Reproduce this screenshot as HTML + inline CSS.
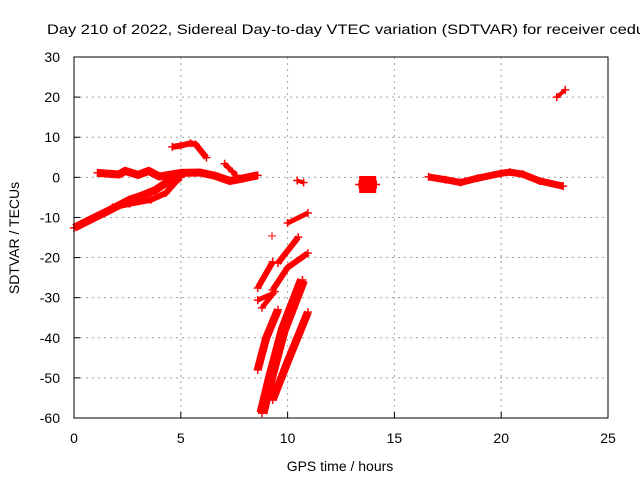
<!DOCTYPE html>
<html><head><meta charset="utf-8"><style>
body{margin:0;background:#fff;}
svg{display:block;font-family:"Liberation Sans",sans-serif;font-size:14px;}
</style></head><body>
<svg id="chart" width="640" height="480">
<rect width="640" height="480" fill="#fff"/>
<text x="47" y="34" font-size="14" textLength="598" lengthAdjust="spacingAndGlyphs">Day 210 of 2022, Sidereal Day-to-day VTEC variation (SDTVAR) for receiver cedu</text>
<g id="grid"></g>
<g id="ticks"></g>
<g id="series"></g>
<rect x="74" y="57" width="534" height="361" fill="none" stroke="#000" stroke-width="1"/>
<text x="340" y="471" text-anchor="middle">GPS time / hours</text>
<text transform="translate(19,238) rotate(-90)" text-anchor="middle">SDTVAR / TECUs</text>
</svg>
<script>
const xTicks=[0,5,10,15,20,25];
const yTicks=[30,20,10,0,-10,-20,-30,-40,-50,-60];
// tracks: [hour, SDTVAR] points
const trackA=[[0,-12.6],[0.75,-10.6],[1.7,-8.1],[2.6,-5.6],[3.1,-4.7],[3.8,-3.2],[4.5,-0.7],[5.0,0.3]];
const trackB=[[1.8,-7.5],[2.6,-6.6],[3.6,-5.6],[4.3,-3.9],[4.75,-1.2],[5.0,0]];
const trackC=[[4.6,7.6],[5.0,7.9],[5.45,8.5],[5.7,8.2],[6.2,4.9]];
const trackD=[[1.1,1.1],[2.1,0.7],[2.4,1.6],[3.0,0.6],[3.5,1.6],[4.0,0.2],[5.0,1.1],[5.9,1.2],[6.6,0.4],[7.3,-0.9],[7.8,-0.4],[8.6,0.5]];
const trackE=[[7.05,3.4],[7.4,1.5],[7.6,0.5]];
const trackF=[[10.0,-11.4],[10.95,-8.9]];
const trackG=[[9.55,-21.4],[10.5,-14.9]];
const trackH=[[8.6,-27.6],[9.3,-21.1]];
const trackI=[[9.3,-28.1],[10.0,-22.5],[10.95,-18.9]];
const trackJ=[[8.6,-30.6],[9.3,-29.0]];
const trackK=[[8.8,-32.5],[9.4,-28.5]];
const trackL=[[8.8,-58.8],[9.2,-50],[9.8,-38],[10.7,-25.6]];
const trackM=[[9.3,-55.5],[10.0,-46],[10.95,-33.6]];
const trackN=[[8.6,-48],[9.0,-40],[9.55,-33]];
const trackO=[[10.45,-0.8],[10.75,-1.3]];
const trackP=[[13.35,-1.8],[14.15,-1.8]];
const trackQ=[[16.6,0.1],[17.4,-0.6],[18.1,-1.3],[18.9,-0.2],[20.0,1.0],[20.4,1.3],[21.0,0.8],[21.8,-0.9],[22.9,-2.2]];
const trackR=[[22.6,20.0],[23.0,21.8]];
const singles=[[9.27,-14.6]];
const tracks=[trackA,trackB,trackC,trackD,trackE,trackF,trackG,trackH,trackI,trackJ,trackK,trackL,trackM,trackN,trackO,trackP,trackQ,trackR];
const widths=[8,6,6,8,5,5,6,6,6,5,5,11,8,8,4,17,7,4];
const NS='http://www.w3.org/2000/svg';
const X=t=>74+t*534/25, Y=v=>57+(30-v)*361/90;
const grid=document.getElementById('grid'),ticks=document.getElementById('ticks'),series=document.getElementById('series');
xTicks.forEach(t=>{
 if(t>0&&t<25){const l=document.createElementNS(NS,'line');
 
 
 l.setAttribute('x1',X(t));l.setAttribute('x2',X(t));l.setAttribute('y1',57);l.setAttribute('y2',418);
 l.setAttribute('stroke','#a0a0a0');l.setAttribute('stroke-dasharray','2,4');grid.appendChild(l);}
 const k=document.createElementNS(NS,'line');
 
 
 k.setAttribute('x1',X(t));k.setAttribute('x2',X(t));k.setAttribute('y1',418);k.setAttribute('y2',412);k.setAttribute('stroke','#000');ticks.appendChild(k);
 const s=document.createElementNS(NS,'text');
 
 
 s.setAttribute('x',X(t));s.setAttribute('y',443);s.setAttribute('text-anchor','middle');s.textContent=t;ticks.appendChild(s);
});
yTicks.forEach(v=>{
 if(v<30&&v>-60){const l=document.createElementNS(NS,'line');
 
 
 l.setAttribute('x1',74);l.setAttribute('x2',608);l.setAttribute('y1',Y(v));l.setAttribute('y2',Y(v));
 l.setAttribute('stroke','#a0a0a0');l.setAttribute('stroke-dasharray','2,4');grid.appendChild(l);}
 const k=document.createElementNS(NS,'line');
 
 
 k.setAttribute('x1',74);k.setAttribute('x2',80);k.setAttribute('y1',Y(v));k.setAttribute('y2',Y(v));k.setAttribute('stroke','#000');ticks.appendChild(k);
 const s=document.createElementNS(NS,'text');
 
 
 s.setAttribute('x',60);s.setAttribute('y',Y(v)+5);s.setAttribute('text-anchor','end');s.textContent=v;ticks.appendChild(s);
});
tracks.forEach((tr,i)=>{
 const p=document.createElementNS(NS,'polyline');
 
 
 p.setAttribute('points',tr.map(d=>X(d[0])+','+Y(d[1])).join(' '));
 p.setAttribute('fill','none');p.setAttribute('stroke','#f00');p.setAttribute('stroke-width',widths[i]);
 p.setAttribute('stroke-linejoin','round');series.appendChild(p);
 tr.forEach(d=>{
  const m=document.createElementNS(NS,'path');
  
  
  const x=X(d[0]),y=Y(d[1]);
  m.setAttribute('d',`M${x-4},${y}H${x+4}M${x},${y-4}V${y+4}`);
  m.setAttribute('stroke','#f00');m.setAttribute('stroke-width',1.5);series.appendChild(m);
 });
});
singles.forEach(d=>{
 const m=document.createElementNS(NS,'path');
 
 
 const x=X(d[0]),y=Y(d[1]);
 m.setAttribute('d',`M${x-4},${y}H${x+4}M${x},${y-4}V${y+4}`);
 m.setAttribute('stroke','#f00');m.setAttribute('stroke-width',1);series.appendChild(m);
});
</script>
</body></html>
